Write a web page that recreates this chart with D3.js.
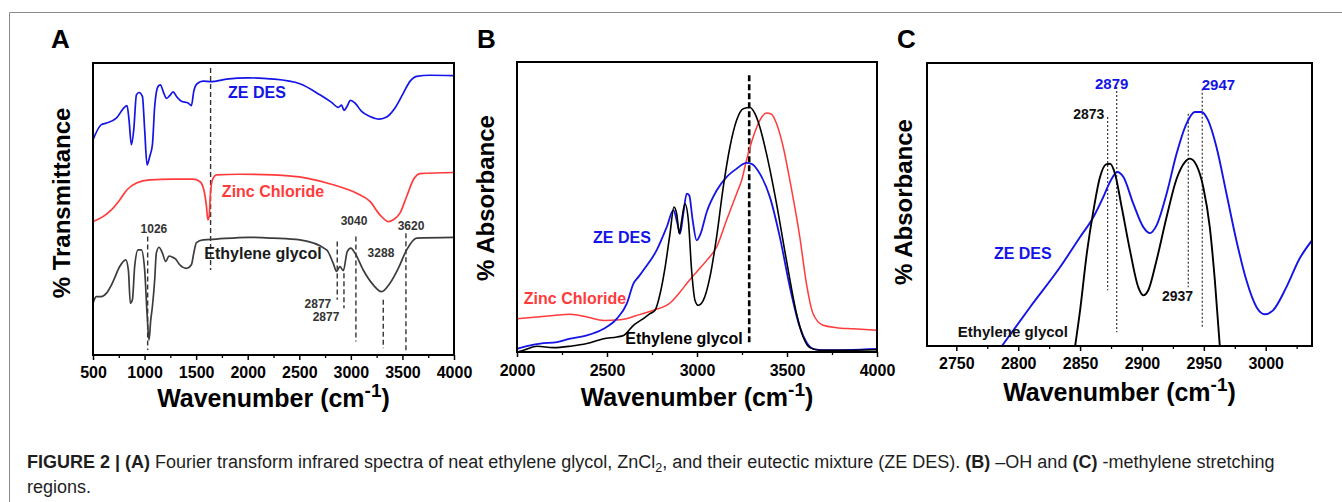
<!DOCTYPE html>
<html>
<head>
<meta charset="utf-8">
<script src="https://cdn.jsdelivr.net/npm/d3@7"></script>
<style>
body { margin: 0; background: #fff; }
svg { font-family: "Liberation Sans", Arial, sans-serif; }
</style>
</head>
<body>
<svg id="fig" width="1342" height="502"></svg>
<script>
// ---- Panel A: FTIR transmittance, [wavenumber, relative value 0-100]
const aZeDes = [[500,73.7],[581,78.9],[629,79.4],[726,81.1],[807,84.9],[830,85.4],[849,80.6],[872,72.0],[895,77.1],[921,89.1],[946,89.9],[979,88.6],[1001,77.1],[1024,65.1],[1050,68.0],[1076,72.0],[1098,85.1],[1131,92.0],[1153,92.5],[1186,89.7],[1212,87.9],[1244,88.8],[1276,90.1],[1315,88.3],[1357,86.9],[1422,86.3],[1454,85.4],[1477,90.3],[1509,92.9],[1568,93.8],[1648,93.6],[1794,94.5],[2008,94.9],[2247,94.5],[2506,92.9],[2700,89.1],[2813,86.5],[2878,84.8],[2910,85.6],[2933,83.8],[2959,84.9],[2997,87.2],[3040,86.3],[3104,83.4],[3185,81.7],[3276,80.8],[3347,81.5],[3428,84.6],[3509,89.7],[3573,93.7],[3638,95.4],[3767,95.8],[4000,95.7]];
const aZinc = [[500,45.7],[597,47.4],[678,49.7],[759,53.1],[830,56.6],[921,58.9],[1050,60.0],[1276,60.2],[1470,60.2],[1535,59.4],[1574,56.6],[1600,50.9],[1613,46.3],[1626,47.4],[1639,55.4],[1658,60.0],[1697,61.7],[1923,61.9],[2247,61.7],[2570,60.6],[2829,58.3],[3056,55.4],[3185,52.6],[3282,48.0],[3363,45.7],[3412,46.3],[3476,48.6],[3541,54.3],[3606,60.0],[3670,62.1],[4000,62.5]];
const aGlycol = [[500,17.7],[532,20.0],[581,20.0],[629,21.1],[694,25.1],[759,30.3],[817,32.6],[843,29.1],[862,17.7],[882,18.9],[904,30.3],[937,36.0],[969,36.0],[1001,29.1],[1024,14.3],[1043,5.1],[1060,12.0],[1076,16.6],[1098,25.7],[1114,34.9],[1140,36.9],[1173,34.9],[1205,32.0],[1237,33.9],[1270,33.5],[1302,32.8],[1341,30.9],[1405,29.7],[1454,30.9],[1477,34.9],[1503,38.5],[1568,39.4],[1697,39.7],[2008,40.3],[2247,40.0],[2506,39.4],[2765,36.0],[2829,31.4],[2862,28.6],[2894,30.3],[2927,28.9],[2965,35.4],[3000,36.6],[3040,34.9],[3120,29.1],[3217,24.0],[3298,21.7],[3379,24.6],[3460,29.7],[3541,36.0],[3638,40.0],[4000,40.3]];
// dashed guide lines: [wavenumber, top, bottom]
const aGuides = [[1640,98.3,29.1],[1030,40.6,1.7],[2868,38.9,18.9],[2933,28.0,16.0],[3049,40.6,4.6],[3314,18.9,2.3],[3534,41.7,1.1]];
const aPeakLabels = [["1026",1091,41.8],["3040",3031,44.5],["3620",3583,42.8],["3288",3292,33.6],["2877",2681,16.1],["2877",2759,11.6]];

// ---- Panel B: -OH region absorbance
const bZeDes = [[2000,1.1],[2074,2.3],[2129,2.9],[2222,3.4],[2296,4.6],[2388,5.7],[2481,8.0],[2555,11.5],[2610,16.7],[2647,23.6],[2675,25.9],[2702,28.2],[2776,35.1],[2832,43.1],[2869,48.9],[2891,44.3],[2906,40.8],[2924,47.7],[2943,54.6],[2957,54.0],[2976,45.4],[2998,38.5],[3020,40.8],[3054,48.3],[3109,55.7],[3164,60.3],[3220,63.2],[3275,65.2],[3303,64.9],[3349,61.5],[3405,53.4],[3460,39.7],[3516,22.4],[3571,8.6],[3608,3.4],[3645,1.1],[3701,0.6],[4000,1.1]];
const bZinc = [[2000,11.5],[2111,12.1],[2203,12.6],[2296,13.0],[2388,12.1],[2481,10.9],[2573,11.1],[2665,12.6],[2758,14.4],[2850,16.9],[2906,20.7],[2943,23.6],[2998,27.6],[3054,31.6],[3109,36.2],[3164,45.4],[3220,54.6],[3248,59.2],[3275,66.1],[3312,74.1],[3349,79.9],[3386,82.4],[3414,82.0],[3442,78.7],[3479,70.7],[3516,59.2],[3571,39.7],[3608,23.6],[3645,13.2],[3701,9.2],[3774,8.4],[3867,8.0],[4000,7.5]];
const bGlycol = [[2000,0],[2037,0.6],[2111,2.0],[2203,1.5],[2296,2.0],[2388,2.9],[2481,4.6],[2555,5.2],[2592,5.7],[2647,9.2],[2702,11.5],[2739,13.2],[2767,14.4],[2795,20.1],[2823,29.3],[2850,40.8],[2872,50.0],[2887,47.7],[2902,40.8],[2915,45.4],[2933,51.1],[2952,45.4],[2970,28.2],[2989,17.8],[3007,16.1],[3035,17.8],[3072,25.9],[3109,39.7],[3146,56.9],[3183,70.7],[3220,79.9],[3257,83.9],[3294,84.3],[3322,82.2],[3349,77.6],[3386,68.4],[3442,51.1],[3497,31.6],[3553,13.2],[3590,5.2],[3627,1.5],[3682,0.6],[3774,0.6],[4000,0.8]];
const bGuides = [[3290,95.4,2.3]];

// ---- Panel C: methylene stretching region
const cZeDes = [[2786.8,0],[2809.7,13.8],[2833.9,27.9],[2850.0,38.5],[2860.8,45.6],[2868.8,52.7],[2874.2,58.0],[2880.1,61.5],[2885.0,59.7],[2893.0,50.3],[2901.1,42.0],[2906.5,39.9],[2911.8,42.6],[2919.9,53.8],[2928.0,68.0],[2936.0,78.6],[2942.7,82.7],[2948.1,82.7],[2953.5,79.7],[2960.2,70.3],[2968.3,53.8],[2976.3,37.3],[2984.4,23.2],[2992.5,13.8],[2999.2,11.2],[3005.9,12.6],[3016.7,20.8],[3027.4,30.9],[3037.4,37.3]];
const cGlycol = [[2846.0,0],[2850.0,12.6],[2855.4,32.6],[2860.8,47.9],[2866.1,59.7],[2871.0,64.2],[2874.2,64.4],[2878.2,60.9],[2883.6,49.1],[2890.3,33.8],[2897.0,20.8],[2901.1,17.9],[2905.1,19.7],[2911.8,30.3],[2919.9,45.6],[2928.0,59.1],[2934.7,65.0],[2938.7,66.2],[2944.1,63.8],[2949.5,56.2],[2954.8,42.0],[2958.9,23.2],[2962.9,0]];
const cGuides = [[2872.3,80.9,19.7],[2879.6,91.5,4.9],[2937.4,82.1,20.8],[2948.7,90.9,6.1]];

const BLUE = "#1414e6", RED = "#ff3b3b", GREY = "#3c3c3c";

const svg = d3.select("#fig");

// outer figure border (top + left)
svg.append("path")
    .attr("d", "M9.5,502V12.5H1342")
    .attr("fill", "none")
    .attr("stroke", "#8a8a8a")
    .attr("stroke-width", 1);

function drawPanel(p) {
    const x = d3.scaleLinear().domain(p.domain).range([p.left, p.right]);
    const y = d3.scaleLinear().domain([0, 100]).range([p.bottom, p.top]);
    const g = svg.append("g");

    g.append("clipPath").attr("id", "clip" + p.id)
        .append("rect")
        .attr("x", p.left).attr("y", p.top)
        .attr("width", p.right - p.left).attr("height", p.bottom - p.top);

    const plot = g.append("g").attr("clip-path", "url(#clip" + p.id + ")");
    const line = d3.line()
        .x(d => x(d[0]))
        .y(d => y(d[1]))
        .curve(d3.curveMonotoneX);

    // guide lines
    plot.selectAll(".guide")
        .data(p.guides)
        .enter()
        .append("line")
        .attr("x1", d => x(d[0])).attr("x2", d => x(d[0]))
        .attr("y1", d => y(d[1])).attr("y2", d => y(d[2]))
        .attr("stroke", p.guideColor)
        .attr("stroke-width", p.guideWidth)
        .attr("stroke-dasharray", p.guideDash);

    p.series.forEach(s => {
        plot.append("path")
            .datum(s.data)
            .attr("fill", "none")
            .attr("stroke", s.color)
            .attr("stroke-width", s.width || 1.7)
            .attr("stroke-linejoin", "round")
            .attr("d", line);
    });

    // minor + major ticks along the bottom
    g.append("g")
        .attr("transform", "translate(0," + p.bottom + ")")
        .call(d3.axisBottom(x).tickValues(p.minor).tickSize(3).tickFormat(""))
        .call(a => a.select(".domain").remove())
        .call(a => a.selectAll("line").attr("stroke-width", 1.3));
    g.append("g")
        .attr("transform", "translate(0," + p.bottom + ")")
        .call(d3.axisBottom(x).tickValues(p.major).tickSize(5).tickPadding(p.pad).tickFormat(d3.format("d")))
        .call(a => a.select(".domain").remove())
        .call(a => a.selectAll("line").attr("stroke-width", 1.5))
        .call(a => a.selectAll("text")
            .attr("font-family", "'Liberation Sans', Arial, sans-serif")
            .attr("font-size", 16).attr("font-weight", "bold").attr("fill", "#000"));

    // frame
    g.append("rect")
        .attr("x", p.left).attr("y", p.top)
        .attr("width", p.right - p.left).attr("height", p.bottom - p.top)
        .attr("fill", "none").attr("stroke", "#000").attr("stroke-width", 2);

    // axis titles
    const xt = g.append("text")
        .attr("x", (p.left + p.right) / 2 + p.xTitleShift)
        .attr("y", p.xTitleY)
        .attr("text-anchor", "middle")
        .attr("font-size", 25).attr("font-weight", "bold");
    xt.append("tspan").text("Wavenumber (cm");
    xt.append("tspan").attr("dy", -10).attr("font-size", 19).text("-1");
    xt.append("tspan").attr("dy", 10).text(")");

    g.append("text")
        .attr("transform", "translate(" + p.yTitleX + "," + p.yTitleY + ") rotate(-90)")
        .attr("text-anchor", "middle")
        .attr("font-size", 24).attr("font-weight", "bold")
        .text(p.yTitle);

    g.append("text")
        .attr("x", p.letterX).attr("y", 48)
        .attr("font-size", 26).attr("font-weight", "bold")
        .text(p.letter);

    // annotations
    p.labels.forEach(l => {
        g.append("text")
            .attr("x", x(l.at[0])).attr("y", y(l.at[1]))
            .attr("text-anchor", "middle")
            .attr("font-size", l.size).attr("font-weight", "bold")
            .attr("fill", l.color)
            .text(l.text);
    });
}

drawPanel({
    id: "A", letter: "A", letterX: 51,
    left: 93, right: 454, top: 63, bottom: 355,
    domain: [500, 4000],
    major: d3.range(500, 4001, 500), minor: d3.range(750, 4000, 500),
    pad: 7, xTitleY: 407, xTitleShift: 0,
    yTitle: "% Transmittance", yTitleX: 70, yTitleY: 203,
    guides: aGuides, guideColor: "#333", guideWidth: 1.4, guideDash: "5,3",
    series: [
        { data: aZeDes, color: BLUE },
        { data: aZinc, color: RED },
        { data: aGlycol, color: GREY }
    ],
    labels: [
        { text: "ZE DES", at: [2090, 88.0], size: 16, color: BLUE },
        { text: "Zinc Chloride", at: [2245, 54.1], size: 16, color: RED },
        { text: "Ethylene glycol", at: [2148, 32.9], size: 16, color: "#1a1a1a" }
    ].concat(aPeakLabels.map(d => ({ text: d[0], at: [d[1], d[2]], size: 12, color: "#333" })))
});

drawPanel({
    id: "B", letter: "B", letterX: 477,
    left: 517, right: 877, top: 62, bottom: 352,
    domain: [2000, 4000],
    major: d3.range(2000, 4001, 500), minor: d3.range(2250, 4000, 500),
    pad: 8, xTitleY: 406, xTitleShift: 0,
    yTitle: "% Absorbance", yTitleX: 494, yTitleY: 198,
    guides: bGuides, guideColor: "#000", guideWidth: 2.6, guideDash: "6,3",
    series: [
        { data: bZinc, color: RED, width: 1.5 },
        { data: bZeDes, color: BLUE, width: 1.8 },
        { data: bGlycol, color: "#000", width: 1.6 }
    ],
    labels: [
        { text: "ZE DES", at: [2583, 37.6], size: 16, color: BLUE },
        { text: "Zinc Chloride", at: [2322, 16.6], size: 16, color: RED },
        { text: "Ethylene glycol", at: [2928, 2.8], size: 16, color: "#000" }
    ]
});

drawPanel({
    id: "C", letter: "C", letterX: 897,
    left: 927, right: 1312, top: 63, bottom: 346,
    domain: [2726.3, 3037.4],
    major: d3.range(2750, 3001, 50), minor: d3.range(2775, 3037, 50),
    pad: 7, xTitleY: 401, xTitleShift: 0,
    yTitle: "% Absorbance", yTitleX: 912, yTitleY: 202,
    guides: cGuides, guideColor: "#222", guideWidth: 1.1, guideDash: "2,2",
    series: [
        { data: cZeDes, color: BLUE, width: 1.9 },
        { data: cGlycol, color: "#000", width: 1.9 }
    ],
    labels: [
        { text: "2879", at: [2875.5, 90.8], size: 15, color: BLUE },
        { text: "2947", at: [2961.8, 90.5], size: 15, color: BLUE },
        { text: "2873", at: [2857.0, 80.2], size: 14, color: "#111" },
        { text: "2937", at: [2928.7, 15.9], size: 14, color: "#111" },
        { text: "ZE DES", at: [2803.7, 30.7], size: 16, color: BLUE },
        { text: "Ethylene glycol", at: [2795.7, 3.2], size: 15, color: "#111" }
    ]
});

// caption
const cap = svg.append("g")
    .attr("font-size", 18)
    .attr("fill", "#1e1e1e");
const l1 = cap.append("text").attr("x", 27).attr("y", 468);
l1.append("tspan").attr("font-weight", "bold").text("FIGURE 2 | (A)");
l1.append("tspan").text(" Fourier transform infrared spectra of neat ethylene glycol, ZnCl");
l1.append("tspan").attr("font-size", 12.5).attr("dy", 4).text("2");
l1.append("tspan").attr("dy", -4).text(", and their eutectic mixture (ZE DES). ");
l1.append("tspan").attr("font-weight", "bold").text("(B)");
l1.append("tspan").text(" \u2013OH and ");
l1.append("tspan").attr("font-weight", "bold").text("(C)");
l1.append("tspan").text(" -methylene stretching");
cap.append("text").attr("x", 27).attr("y", 493).text("regions.");
</script>
</body>
</html>
